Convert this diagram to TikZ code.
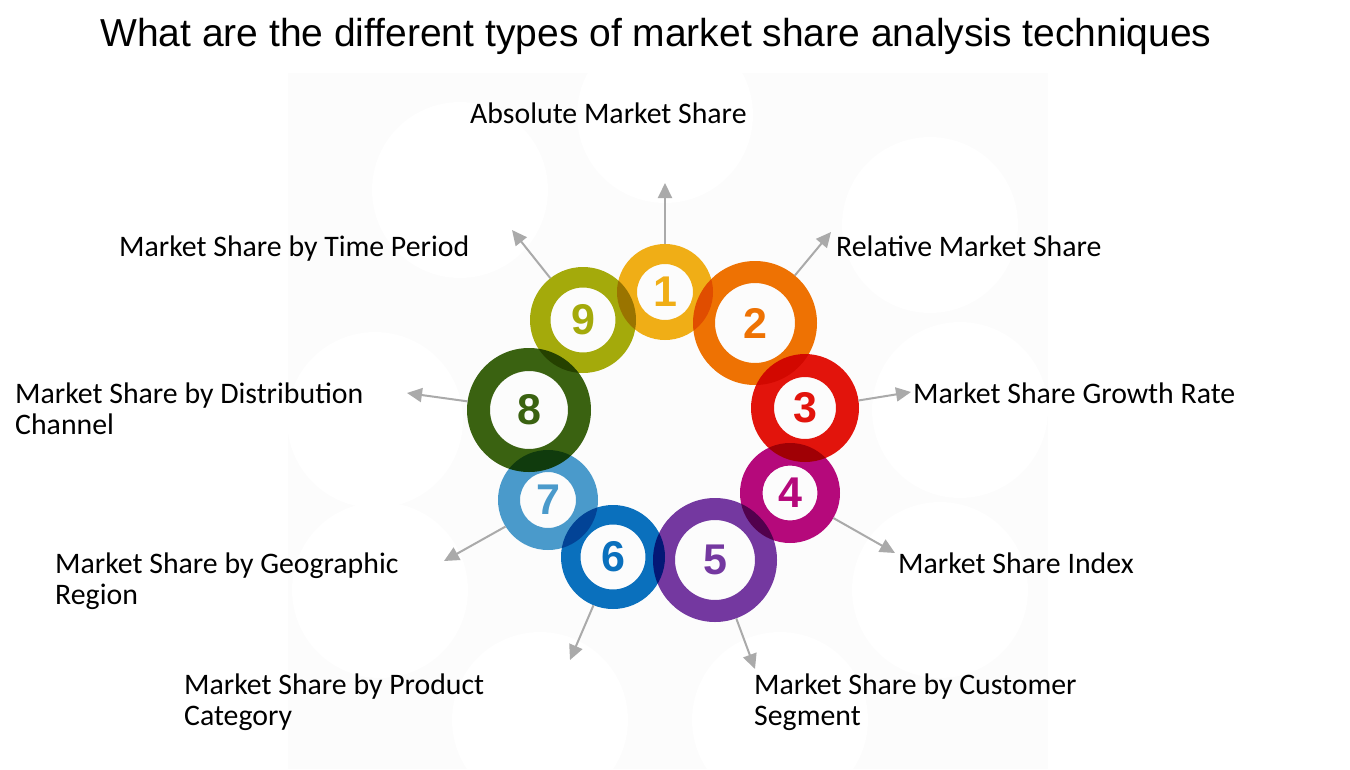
\documentclass[tikz,border=0pt]{standalone}
\usepackage{fontspec}
\setmainfont{Carlito}
\newfontfamily\arial{Liberation Sans}
\usetikzlibrary{arrows.meta}
\definecolor{c1}{HTML}{F0AE16}
\definecolor{c2}{HTML}{EE7203}
\definecolor{c3}{HTML}{E2140C}
\definecolor{c4}{HTML}{B5097B}
\definecolor{c5}{HTML}{7438A0}
\definecolor{c6}{HTML}{0A70BD}
\definecolor{c7}{HTML}{4A9ACB}
\definecolor{c8}{HTML}{3A6211}
\definecolor{c9}{HTML}{A4AA0B}
\definecolor{arrgray}{HTML}{AAAAAA}
\definecolor{bgc}{HTML}{FCFCFC}
\tikzset{
  ringnode/.style={circle, inner sep=0pt, outer sep=0pt, minimum size=#1},
  num/.style={font=\arial\bfseries\fontsize{43}{43}\selectfont, inner sep=0pt},
  lbl/.style={anchor=base west, inner sep=0pt, font=\fontsize{29.8}{31}\selectfont},
  arr/.style={draw=arrgray, line width=2pt, -{Triangle[length=15pt,width=14pt]}},
}
\begin{document}
\begin{tikzpicture}[x=1pt,y=-1pt]
\useasboundingbox (0,0) rectangle (1350,769);
\fill[white] (0,0) rectangle (1350,769);
\fill[bgc] (288,73) rectangle (1048,769);
\foreach \cx/\cy in {460/190, 665/115, 930/225, 960/410, 940/590, 780/720, 540/720, 380/590, 375/420}
  \fill[white] (\cx,\cy) circle[radius=88pt];

\node[anchor=base west, inner sep=0pt, font=\arial\fontsize{39}{47}\selectfont] (title) at (100,46)
  {What are the different types of market share analysis techniques};

% ring positions
\node[ringnode=96pt]  (r1) at (665,292) {};
\node[ringnode=124pt] (r2) at (755,323) {};
\node[ringnode=108pt] (r3) at (805,408) {};
\node[ringnode=100pt] (r4) at (790,493) {};
\node[ringnode=124pt] (r5) at (715,560) {};
\node[ringnode=104pt] (r6) at (613,557) {};
\node[ringnode=100pt] (r7) at (548,500) {};
\node[ringnode=124pt] (r8) at (529,410) {};
\node[ringnode=106pt] (r9) at (583,320) {};

\begin{scope}[blend group=multiply]
\fill[c1, even odd rule] (r1.center) circle[radius=48pt] circle[radius=28pt];
\fill[c2, even odd rule] (r2.center) circle[radius=62pt] circle[radius=40pt];
\fill[c3, even odd rule] (r3.center) circle[radius=54pt] circle[radius=31pt];
\fill[c4, even odd rule] (r4.center) circle[radius=50pt] circle[radius=27.5pt];
\fill[c5, even odd rule] (r5.center) circle[radius=62pt] circle[radius=40pt];
\fill[c6, even odd rule] (r6.center) circle[radius=52pt] circle[radius=32.5pt];
\fill[c7, even odd rule] (r7.center) circle[radius=50pt] circle[radius=28pt];
\fill[c8, even odd rule] (r8.center) circle[radius=62pt] circle[radius=39pt];
\fill[c9, even odd rule] (r9.center) circle[radius=53pt] circle[radius=32.5pt];
\end{scope}

\node[num, text=c1] (n1) at (r1.center) {1};
\node[num, text=c2] (n2) at (r2.center) {2};
\node[num, text=c3] (n3) at (r3.center) {3};
\node[num, text=c4] (n4) at (r4.center) {4};
\node[num, text=c5] (n5) at (r5.center) {5};
\node[num, text=c6] (n6) at (r6.center) {6};
\node[num, text=c7] (n7) at (r7.center) {7};
\node[num, text=c8] (n8) at (r8.center) {8};
\node[num, text=c9] (n9) at (r9.center) {9};

% arrow tips
\coordinate (t1) at (665,183);
\coordinate (t2) at (831,232);
\coordinate (t3) at (911,392);
\coordinate (t4) at (895,553);
\coordinate (t5) at (755,669);
\coordinate (t6) at (570,660);
\coordinate (t7) at (444,561);
\coordinate (t8) at (407,393);
\coordinate (t9) at (512,230);

\draw[arr] (r1.90) -- (t1);
\draw[arr] (r2.50) -- (t2);
\draw[arr] (r3.8.6) -- (t3);
\draw[arr] (r4.-30) -- (t4);
\draw[arr] (r5.-70) -- (t5);
\draw[arr] (r6.-112) -- (t6);
\draw[arr] (r7.-148) -- (t7);
\draw[arr] (r8.172) -- (t8);
\draw[arr] (r9.128) -- (t9);

% labels
\node[lbl] (l1) at (470,123) {Absolute Market Share};
\node[lbl] (l2) at (836,256) {Relative Market Share};
\node[lbl] (l3) at (913,403) {Market Share Growth Rate};
\node[lbl] (l4) at (898,573) {Market Share Index};
\node[lbl] (l5a) at (754,694) {Market Share by Customer};
\node[lbl] (l5b) at (754,725) {Segment};
\node[lbl] (l6a) at (184,694) {Market Share by Product};
\node[lbl] (l6b) at (184,725) {Category};
\node[lbl] (l7a) at (55,573) {Market Share by Geographic};
\node[lbl] (l7b) at (55,604) {Region};
\node[lbl] (l8a) at (15,403) {Market Share by Distribution};
\node[lbl] (l8b) at (15,434) {Channel};
\node[lbl] (l9) at (119,256) {Market Share by Time Period};
\end{tikzpicture}
\end{document}
